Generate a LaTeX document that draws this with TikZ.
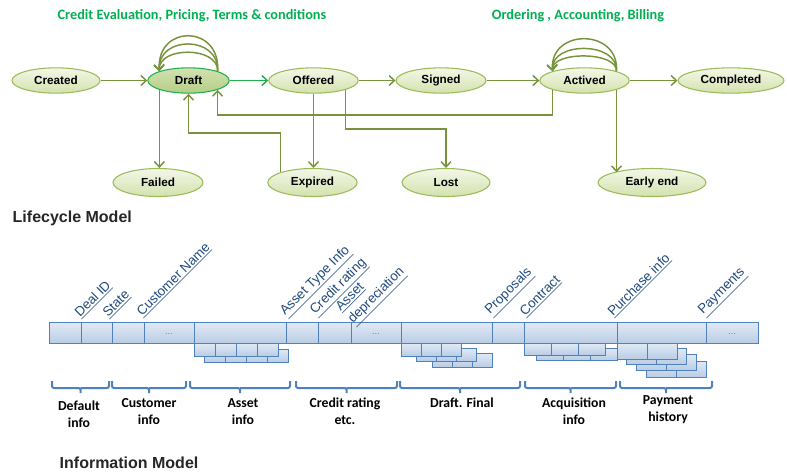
\documentclass[tikz,border=0pt]{standalone}
\usepackage{fontspec}
\setmainfont{Liberation Sans}
\newfontfamily\calibri{Carlito}
\usetikzlibrary{positioning,shapes.geometric,arrows.meta}

\definecolor{flowgreen}{HTML}{77933C}
\definecolor{activegreen}{HTML}{1FAF4B}
\definecolor{headgreen}{HTML}{00B050}
\definecolor{stateline}{HTML}{9BBB59}
\definecolor{statetop}{HTML}{F3F7E8}
\definecolor{statebot}{HTML}{D3E2AE}
\definecolor{drafttop}{HTML}{D2E2B2}
\definecolor{draftbot}{HTML}{B5CD86}
\definecolor{fieldline}{HTML}{4F81BD}
\definecolor{fieldtop}{HTML}{E2EAF5}
\definecolor{fieldbot}{HTML}{B9CDE5}
\definecolor{labelblue}{HTML}{1F497D}

\tikzset{
  state/.style={ellipse, draw=stateline, line width=0.8pt, top color=statetop, bottom color=statebot,
    inner sep=0pt, minimum height=19pt, font=\bfseries\fontsize{8.8}{10}\selectfont},
  draftstate/.style={state, draw=activegreen, top color=drafttop, bottom color=draftbot},
  endstate/.style={state, minimum height=21pt},
  flow/.style={draw=flowgreen, line width=1.1pt, -{Straight Barb[length=4pt,width=7.5pt]}},
  heading/.style={font=\calibri\bfseries\fontsize{10.7}{12}\selectfont, text=headgreen},
  modeltitle/.style={anchor=west, font=\bfseries\fontsize{12}{14}\selectfont, text=black!85},
  field/.style={draw=fieldline, line width=0.7pt, top color=fieldtop, bottom color=fieldbot,
    inner sep=0pt, outer sep=0pt, minimum height=15.75pt, font=\fontsize{7}{7}\selectfont\color{gray}},
  fieldlabel/.style={rotate=45, anchor=south west, inner sep=0.5pt, align=left,
    font=\fontsize{10}{13}\selectfont, text=labelblue},
  cell/.style={draw=fieldline, line width=0.6pt, top color=fieldtop, bottom color=fieldbot},
  brace/.style={draw=fieldline, line width=1.5pt, rounded corners=1.5pt},
  grouplabel/.style={align=center, font=\calibri\bfseries\fontsize{10.3}{12.5}\selectfont}
}

\begin{document}
\begin{tikzpicture}[x=0.75pt,y=-0.75pt]
  \useasboundingbox (0,0) rectangle (787,472);

  % lifecycle
  \node[heading] (hdraft) at (192,16) {Credit Evaluation, Pricing, Terms \& conditions};
  \node[heading] (hactive) at (578,16) {Ordering , Accounting, Billing};

  \node[state, minimum width=66pt] (created) at (56,80.5) {Created};
  \node[draftstate, minimum width=61pt] (draft) at (188.5,80.5) {Draft};
  \node[state, minimum width=67pt] (offered) at (313.5,80.5) {Offered};
  \node[state, minimum width=67.5pt] (signed) at (441,80.5) {Signed};
  \node[state, minimum width=67pt] (actived) at (584.5,80.5) {Actived};
  \node[state, minimum width=79.5pt] (completed) at (731,80.5) {Completed};

  \node[endstate, minimum width=67.5pt] (failed) at (158,182.5) {Failed};
  \node[endstate, minimum width=67pt] (expired) at (312.5,182.5) {Expired};
  \node[endstate, minimum width=66pt] (lost) at (446,182.5) {Lost};
  \node[endstate, minimum width=81pt] (early) at (652,182.5) {Early end};

  \draw[flow] (created) -- (draft);
  \draw[flow, draw=activegreen] (draft) -- (offered);
  \draw[flow] (offered) -- (signed);
  \draw[flow] (signed) -- (actived);
  \draw[flow] (actived) -- (completed);

  \draw[flow] (draft.north east) .. controls ([shift={(3,-47)}]draft.north east) and ([shift={(-3,-47)}]draft.north west) .. (draft.north west);
  \draw[flow] (draft.north east) .. controls ([shift={(2,-36)}]draft.north east) and ([shift={(-2,-36)}]draft.north west) .. (draft.north west);
  \draw[flow] (draft.north east) .. controls ([shift={(1,-25)}]draft.north east) and ([shift={(-1,-25)}]draft.north west) .. (draft.north west);

  \draw[flow] (actived.north east) .. controls ([shift={(3,-43)}]actived.north east) and ([shift={(-3,-43)}]actived.north west) .. (actived.north west);
  \draw[flow] (actived.north east) .. controls ([shift={(2,-30)}]actived.north east) and ([shift={(-2,-30)}]actived.north west) .. (actived.north west);
  \draw[flow] (actived.north east) .. controls ([shift={(1,-20)}]actived.north east) and ([shift={(-1,-20)}]actived.north west) .. (actived.north west);

  \draw[flow] (draft.south west) -- (draft.south west |- failed.north);
  \draw[flow] (offered.south) -- (offered.south |- expired.north);
  \draw[flow] (offered.south east) -- (offered.south east |- 0,129) -| (lost.north);
  \draw[flow] (actived.south east) -- (actived.south east |- early.north west);
  \draw[flow] (expired.north west) -- (expired.north west |- 0,133) -| (draft.south);
  \draw[flow] (actived.south west) -- (actived.south west |- 0,115) -| (draft.south east);

  \node[modeltitle] (lifecycle) at (8,218) {Lifecycle Model};

  % information model: stacked sub tables
  \draw[cell] (204,349) rectangle +(21,13) (225,349) rectangle +(21,13) (246,349) rectangle +(21,13) (267,349) rectangle +(21,13);
  \draw[cell] (194,343) rectangle +(21,13) (215,343) rectangle +(21,13) (236,343) rectangle +(21,13) (257,343) rectangle +(21,13);

  \draw[cell] (432,353) rectangle +(20,14) (452,353) rectangle +(20,14) (472,353) rectangle +(20,14);
  \draw[cell] (416,348) rectangle +(20,13) (436,348) rectangle +(20,13) (456,348) rectangle +(20,13);
  \draw[cell] (401,343) rectangle +(20,13) (421,343) rectangle +(20,13) (441,343) rectangle +(20,13);

  \draw[cell] (536,348) rectangle +(27,12) (563,348) rectangle +(27,12) (590,348) rectangle +(27,12);
  \draw[cell] (524,343) rectangle +(27,12) (551,343) rectangle +(27,12) (578,343) rectangle +(27,12);

  \draw[cell] (646,361) rectangle +(30,16) (676,361) rectangle +(30,16);
  \draw[cell] (636,354) rectangle +(30,16) (666,354) rectangle +(30,16);
  \draw[cell] (626,348) rectangle +(30,16) (656,348) rectangle +(30,16);
  \draw[cell] (617,343) rectangle +(30,16) (647,343) rectangle +(30,16);

  % information model: record
  \node[field, minimum width=24pt, anchor=west] (dealid) at (49,332.5) {};
  \node[field, minimum width=23.25pt, right=0pt of dealid] (state) {};
  \node[field, minimum width=24pt, right=0pt of state] (custname) {};
  \node[field, minimum width=37.5pt, right=0pt of custname] (custmore) {\raisebox{-3pt}{...}};
  \node[field, minimum width=69pt, right=0pt of custmore] (assettype) {};
  \node[field, minimum width=24pt, right=0pt of assettype] (credit) {};
  \node[field, minimum width=24.75pt, right=0pt of credit] (assetdep) {};
  \node[field, minimum width=37.5pt, right=0pt of assetdep] (creditmore) {\raisebox{-3pt}{...}};
  \node[field, minimum width=68.25pt, right=0pt of creditmore] (proposals) {};
  \node[field, minimum width=24pt, right=0pt of proposals] (contract) {};
  \node[field, minimum width=69.75pt, right=0pt of contract] (purchase) {};
  \node[field, minimum width=66.75pt, right=0pt of purchase] (payments) {};
  \node[field, minimum width=39pt, right=0pt of payments] (paymore) {\raisebox{-3pt}{...}};

  \node[fieldlabel] (ldealid) at ([shift={(1,-1)}]dealid.north east) {\underline{Deal ID}};
  \node[fieldlabel] (lstate) at ([shift={(-2,-1)}]state.north east) {\underline{State}};
  \node[fieldlabel] (lcustname) at ([shift={(0,-2)}]custname.north east) {\underline{Customer Name}};
  \node[fieldlabel] (lassettype) at ([shift={(3,-1)}]assettype.north east) {\underline{Asset Type Info}};
  \node[fieldlabel] (lcredit) at ([shift={(1,-2)}]credit.north east) {\underline{Credit rating}};
  \node[fieldlabel] (lassetdep) at ([shift={(6,7)}]assetdep.north east) {\underline{Asset}\\\underline{depreciation}};
  \node[fieldlabel] (lproposals) at ([shift={(2,-2)}]proposals.north east) {\underline{Proposals}};
  \node[fieldlabel] (lcontract) at ([shift={(3,-2)}]contract.north east) {\underline{Contract}};
  \node[fieldlabel] (lpurchase) at ([shift={(-2,-2)}]purchase.north east) {\underline{Purchase info}};
  \node[fieldlabel] (lpayments) at ([shift={(1,-2)}]payments.north east) {\underline{Payments}};

  % groups
  \draw[brace] (52,381) |- (80.5,388) -- (80.5,393) (80.5,388) -| (109,381);
  \draw[brace] (112,381) |- (149,388) -- (149,393) (149,388) -| (186,381);
  \draw[brace] (190,381) |- (240,388) -- (240,393) (240,388) -| (290,381);
  \draw[brace] (296,381) |- (346.5,388) -- (346.5,393) (346.5,388) -| (397,381);
  \draw[brace] (400,381) |- (460,388) -- (460,393) (460,388) -| (520,381);
  \draw[brace] (525,381) |- (570.5,388) -- (570.5,393) (570.5,388) -| (616,381);
  \draw[brace] (620,381) |- (666,388) -- (666,393) (666,388) -| (712,381);

  \node[grouplabel] (gdefault) at (79,414.5) {Default\\info};
  \node[grouplabel] (gcustomer) at (149,411.5) {Customer\\info};
  \node[grouplabel] (gasset) at (243,411.5) {Asset\\info};
  \node[grouplabel] (gcredit) at (345,411.5) {Credit rating\\etc.};
  \node[grouplabel] (gdraft) at (462,403) {Draft. Final};
  \node[grouplabel] (gacquisition) at (574,411.5) {Acquisition\\info};
  \node[grouplabel] (gpayment) at (668,409.5) {Payment\\history};

  \node[modeltitle] (infomodel) at (55,463) {Information Model};
\end{tikzpicture}
\end{document}
